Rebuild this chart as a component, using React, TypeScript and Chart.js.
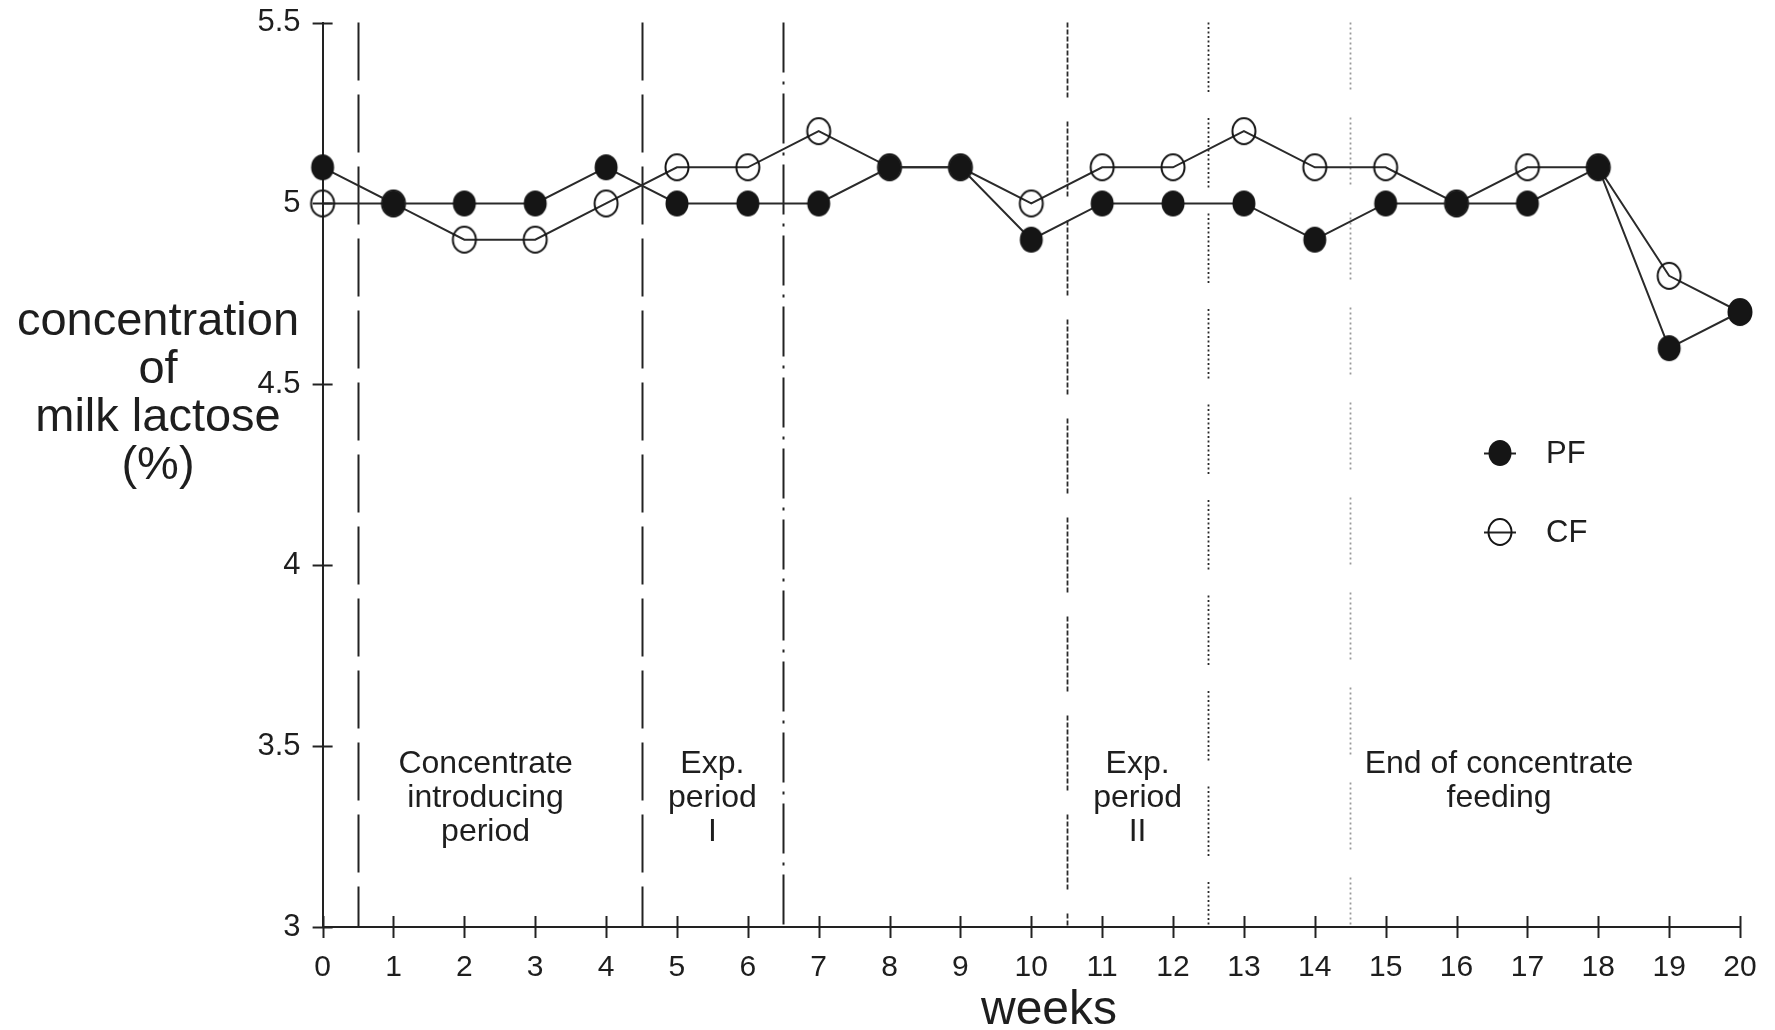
import React, { useEffect, useRef } from "react";
import { Chart, registerables } from "chart.js";

Chart.register(...registerables);

// Weekly milk lactose concentration (%) for the two feeding groups
const weeks = [0, 1, 2, 3, 4, 5, 6, 7, 8, 9, 10, 11, 12, 13, 14, 15, 16, 17, 18, 19, 20];
const pfValues = [5.1, 5.0, 5.0, 5.0, 5.1, 5.0, 5.0, 5.0, 5.1, 5.1, 4.9, 5.0, 5.0, 5.0, 4.9, 5.0, 5.0, 5.0, 5.1, 4.6, 4.7];
const cfValues = [5.0, 5.0, 4.9, 4.9, 5.0, 5.1, 5.1, 5.2, 5.1, 5.1, 5.0, 5.1, 5.1, 5.2, 5.1, 5.1, 5.0, 5.1, 5.1, 4.8, 4.7];
const seriesNames = ["PF", "CF"];

const yTickValues = [3, 3.5, 4, 4.5, 5, 5.5];
const yTickLabels = ["3", "3.5", "4", "4.5", "5", "5.5"];

// Boundaries between feeding periods (in weeks)
const periodBounds = [0.5, 4.5, 6.5, 10.5, 12.5, 14.5];
const periodLabels = [
  ["Concentrate", "introducing", "period"],
  ["Exp.", "period", "I"],
  ["Exp.", "period", "II"],
  ["End of concentrate", "feeding"],
];
const periodLabelCenters = [2.3, 5.5, 11.5, 16.6];

const FONT = "'Liberation Sans', Arial, Helvetica, sans-serif";
const INK = "#1e1e1e";

function repeatDash(on: number, off: number, count: number, gap: number): number[] {
  const out: number[] = [];
  for (let i = 0; i < count; i++) out.push(on, off);
  out[out.length - 1] = gap;
  return out;
}

const boundaryStyles = [
  { dash: [58, 14], color: "#222", width: 2 },
  { dash: [58, 14], color: "#222", width: 2 },
  { dash: [50, 9, 3, 9], color: "#222", width: 2 },
  { dash: repeatDash(5, 2, 11, 24), color: "#2a2a2a", width: 1.8 },
  { dash: repeatDash(2, 2.5, 16, 26), color: "#2a2a2a", width: 1.8 },
  { dash: repeatDash(2, 3, 14, 28), color: "#9a9a9a", width: 1.8 },
];

function makeMarker(filled: boolean): HTMLCanvasElement {
  const c = document.createElement("canvas");
  c.width = 30;
  c.height = 32;
  const ctx = c.getContext("2d")!;
  ctx.beginPath();
  ctx.ellipse(15, 16, 11.5, 13, 0, 0, Math.PI * 2);
  if (filled) {
    ctx.fillStyle = "#151515";
    ctx.fill();
  } else {
    ctx.strokeStyle = "#151515";
    ctx.lineWidth = 2;
    ctx.stroke();
  }
  return c;
}

export default function App() {
  const canvasRef = useRef<HTMLCanvasElement | null>(null);

  useEffect(() => {
    const canvas = canvasRef.current;
    if (!canvas) return;
    const filledMarker = makeMarker(true);
    const openMarker = makeMarker(false);

    // Dividing lines between feeding periods plus their captions
    const periodsPlugin = {
      id: "periods",
      beforeDatasetsDraw(chart: any) {
        const { ctx, chartArea, scales } = chart;
        const xs = scales.x;
        ctx.save();
        periodBounds.forEach((b, i) => {
          const st = boundaryStyles[i];
          const px = Math.round(xs.getPixelForValue(b)) + 0.5;
          ctx.beginPath();
          ctx.setLineDash(st.dash);
          ctx.strokeStyle = st.color;
          ctx.lineWidth = st.width;
          ctx.moveTo(px, chartArea.top);
          ctx.lineTo(px, chartArea.bottom);
          ctx.stroke();
        });
        ctx.setLineDash([]);
        ctx.fillStyle = INK;
        ctx.font = `32px ${FONT}`;
        ctx.textAlign = "center";
        ctx.textBaseline = "middle";
        periodLabels.forEach((lines, i) => {
          const cx = xs.getPixelForValue(periodLabelCenters[i]);
          lines.forEach((t, j) => {
            ctx.fillText(t, cx, chartArea.bottom - 163 + j * 34);
          });
        });
        ctx.restore();
      },
      afterDraw(chart: any) {
        const { ctx, chartArea, scales } = chart;
        ctx.save();
        ctx.strokeStyle = "#222";
        ctx.lineWidth = 2;
        // tick marks crossing both axes
        yTickValues.forEach((v) => {
          const py = Math.round(scales.y.getPixelForValue(v)) + 0.5;
          ctx.beginPath();
          ctx.moveTo(chartArea.left - 10, py);
          ctx.lineTo(chartArea.left + 10, py);
          ctx.stroke();
        });
        weeks.forEach((w) => {
          const px = Math.round(scales.x.getPixelForValue(w)) + 0.5;
          ctx.beginPath();
          ctx.moveTo(px, chartArea.bottom - 11);
          ctx.lineTo(px, chartArea.bottom + 11);
          ctx.stroke();
        });

        // axis titles
        ctx.fillStyle = INK;
        ctx.textAlign = "center";
        ctx.textBaseline = "alphabetic";
        ctx.font = `47px ${FONT}`;
        ["concentration", "of", "milk lactose", "(%)"].forEach((t, i) => {
          ctx.fillText(t, 158, 335 + i * 48);
        });
        ctx.font = `48px ${FONT}`;
        ctx.fillText("weeks", 1049, 1024);

        // legend
        const markers = [filledMarker, openMarker];
        seriesNames.forEach((name, i) => {
          const ly = 453 + i * 79;
          const lx = 1500;
          ctx.beginPath();
          ctx.moveTo(lx - 16, ly + 0.5);
          ctx.lineTo(lx + 16, ly + 0.5);
          ctx.stroke();
          ctx.drawImage(markers[i], lx - 15, ly - 16);
          ctx.font = `31px ${FONT}`;
          ctx.textAlign = "left";
          ctx.textBaseline = "middle";
          ctx.fillText(name, 1546, ly + 1);
        });
        ctx.restore();
      },
    };

    const chart = new Chart(canvas, {
      type: "line",
      data: {
        datasets: [
          {
            label: seriesNames[0],
            data: weeks.map((w, i) => ({ x: w, y: pfValues[i] })),
            borderColor: "#2a2a2a",
            borderWidth: 2,
            pointStyle: filledMarker as any,
            pointRadius: 12,
            fill: false,
            tension: 0,
            clip: false,
          },
          {
            label: seriesNames[1],
            data: weeks.map((w, i) => ({ x: w, y: cfValues[i] })),
            borderColor: "#2a2a2a",
            borderWidth: 2,
            pointStyle: openMarker as any,
            pointRadius: 12,
            fill: false,
            tension: 0,
            clip: false,
          },
        ],
      },
      options: {
        responsive: false,
        animation: false,
        devicePixelRatio: 1,
        layout: { autoPadding: false, padding: { top: 22.6, right: 35, left: 0, bottom: 0 } },
        plugins: {
          legend: { display: false },
          tooltip: { enabled: false },
        },
        scales: {
          x: {
            type: "linear",
            min: 0,
            max: 20,
            afterFit: (s: any) => {
              s.height = 103;
              s.paddingLeft = 0;
              s.paddingRight = 0;
            },
            afterBuildTicks: (s: any) => {
              s.ticks = weeks.map((w) => ({ value: w }));
            },
            ticks: {
              font: { family: FONT, size: 30 },
              color: INK,
              padding: 23,
              maxRotation: 0,
              autoSkip: false,
              callback: (v: any) => String(v),
            },
            grid: { drawOnChartArea: false, drawTicks: false },
            border: { color: "#222", width: 2 },
          },
          y: {
            type: "linear",
            min: 3,
            max: 5.5,
            afterFit: (s: any) => {
              s.width = 322.6;
              s.paddingTop = 0;
              s.paddingBottom = 0;
            },
            afterBuildTicks: (s: any) => {
              s.ticks = yTickValues.map((v) => ({ value: v }));
            },
            ticks: {
              font: { family: FONT, size: 31 },
              color: INK,
              padding: 22,
              callback: (v: any) => yTickLabels[yTickValues.indexOf(Number(v))] ?? "",
            },
            grid: { drawOnChartArea: false, drawTicks: false },
            border: { color: "#222", width: 2 },
          },
        },
      },
      plugins: [periodsPlugin],
    });

    return () => chart.destroy();
  }, []);

  return (
    <div style={{ position: "fixed", left: 0, top: 0, width: 1775, height: 1030, background: "#fff" }}>
      <canvas ref={canvasRef} width={1775} height={1030} style={{ display: "block" }} />
    </div>
  );
}
